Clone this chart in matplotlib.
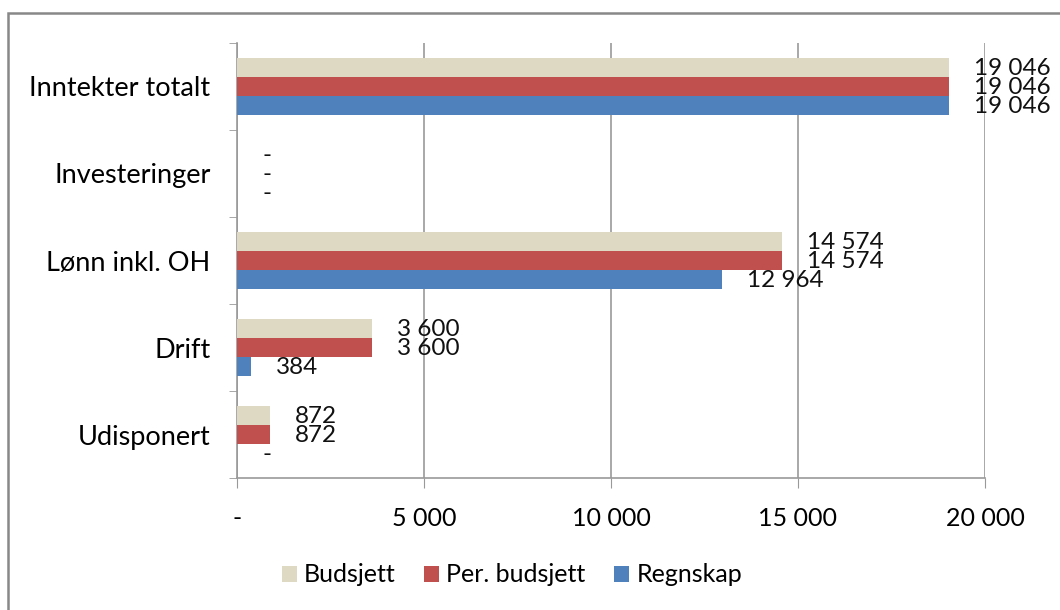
import matplotlib
matplotlib.use("Agg")
import numpy as np
import matplotlib.pyplot as plt
from matplotlib.patches import Rectangle
from matplotlib.ticker import FixedLocator

plt.rcParams["font.family"] = ["Lato", "DejaVu Sans"]

categories = ["Inntekter totalt", "Investeringer", "Lønn inkl. OH", "Drift", "Udisponert"]
series_names = ["Budsjett", "Per. budsjett", "Regnskap"]
budsjett = [19046, 0, 14574, 3600, 872]
per_budsjett = [19046, 0, 14574, 3600, 872]
regnskap = [19046, 0, 12964, 384, 0]
x_ticks = [0, 5000, 10000, 15000, 20000]

colors = ["#DDD9C3", "#C0504D", "#4F81BD"]


def fmt(v):
    if v == 0:
        return "-"
    return f"{v:,.0f}".replace(",", " ")


fig = plt.figure(figsize=(10.6, 6.1), dpi=100)
ax = fig.add_axes([237 / 1060, 1 - 478 / 610, 748 / 1060, 435 / 610])

y = np.arange(len(categories))
h = 0.222
for k, (vals, col, name) in enumerate(zip([budsjett, per_budsjett, regnskap], colors, series_names)):
    pos = y + (k - 1) * h
    ax.barh(pos, vals, height=h, color=col, edgecolor="none", label=name, zorder=3)
    for p, v in zip(pos, vals):
        ax.annotate(fmt(v), (v, p), xytext=(25, -1), textcoords="offset pixels",
                    ha="left", va="center", fontsize=17.5, color="#111")

ax.set_xlim(0, 20000)
ax.set_ylim(len(categories) - 0.5, -0.5)

ax.set_xticks(x_ticks)
ax.set_xticklabels([fmt(v) for v in x_ticks], fontsize=18)
ax.tick_params(axis="x", length=7, color="#999", pad=14)

ax.set_yticks(y)
ax.set_yticklabels(categories, fontsize=19.5)
ax.tick_params(axis="y", which="major", length=0, pad=19)
ax.yaxis.set_minor_locator(FixedLocator(np.arange(-0.5, len(categories), 1)))
ax.tick_params(axis="y", which="minor", length=6, color="#999")

ax.grid(axis="x", color="#999", linewidth=1.2, zorder=0)
for s in ["top", "right"]:
    ax.spines[s].set_visible(False)
for s in ["left", "bottom"]:
    ax.spines[s].set_color("#999")
    ax.spines[s].set_linewidth(1.2)

fig.legend(loc="center", bbox_to_anchor=(512 / 1060, 1 - 575 / 610), ncol=3,
           frameon=False, fontsize=18, handlelength=0.6, handleheight=0.6,
           columnspacing=1.15, handletextpad=0.28)

fig.patches.append(Rectangle((8 / 1060, -0.1), 1.2, (1 - 13 / 610) + 0.1,
                             transform=fig.transFigure, fill=False,
                             edgecolor="#888", linewidth=1.8))

fig.savefig("out.png", dpi=100)
